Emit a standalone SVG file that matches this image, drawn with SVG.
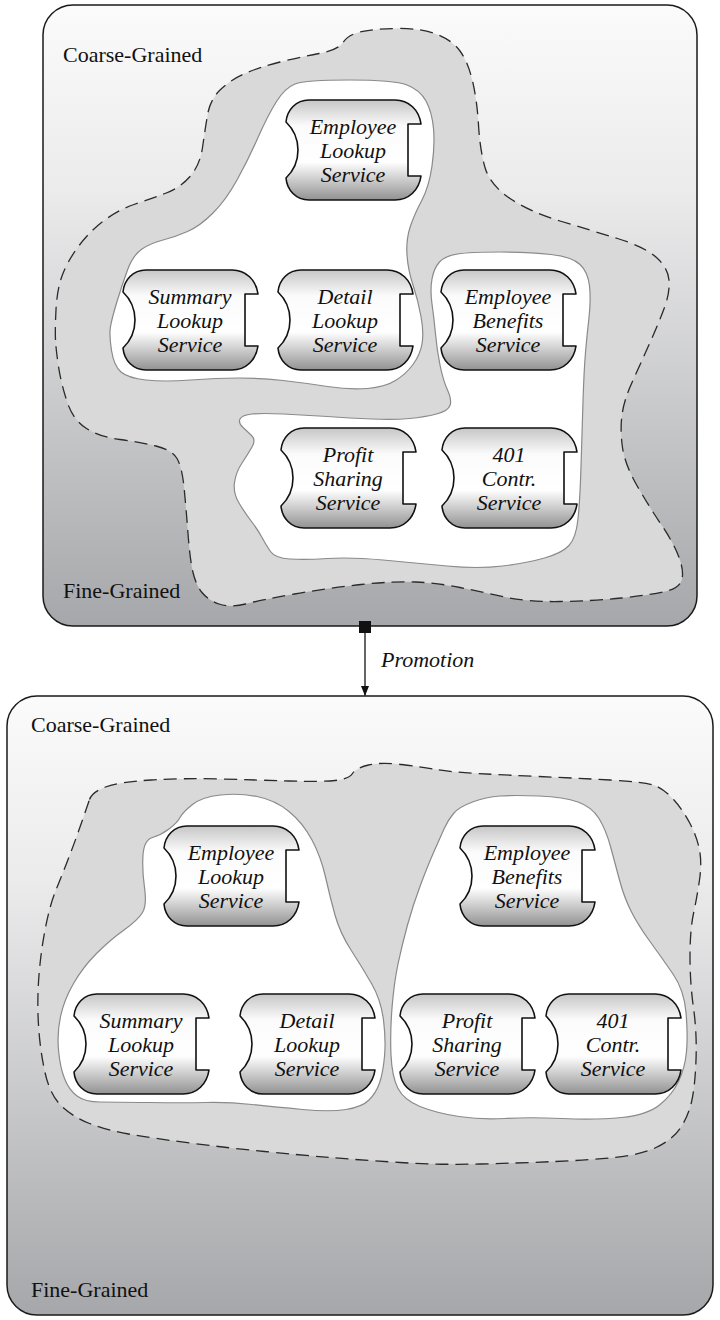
<svg xmlns="http://www.w3.org/2000/svg" xmlns:xlink="http://www.w3.org/1999/xlink" width="720" height="1320" viewBox="0 0 720 1320">
  <defs>
    <linearGradient id="panelFill" x1="0" y1="0" x2="0" y2="1">
      <stop offset="0" stop-color="#fbfbfb"/>
      <stop offset="0.3" stop-color="#ebebec"/>
      <stop offset="1" stop-color="#a6a7aa"/>
    </linearGradient>
    <linearGradient id="svcFill" x1="0" y1="0" x2="0" y2="1">
      <stop offset="0" stop-color="#c6c6c6"/>
      <stop offset="0.26" stop-color="#fbfbfb"/>
      <stop offset="0.62" stop-color="#ffffff"/>
      <stop offset="1" stop-color="#929292"/>
    </linearGradient>
    <!-- service capsule: concave socket on the left, square plug notch on the right -->
    <path id="svcShape" fill="url(#svcFill)" stroke="#111" stroke-width="1.6" stroke-linejoin="round"
          d="M24,0 L110,0 C124,0 134,10 136,24 L123,24 L123,76 L136,76 C134,90 124,100 110,100 L24,100 C11,100 2,90 1,78 A38.7,38.7 0 0 0 1,22 C2,10 11,0 24,0 Z"/>
    <marker id="arrowHead" viewBox="0 0 10 8" refX="10" refY="4" markerWidth="10" markerHeight="8" markerUnits="userSpaceOnUse" orient="auto">
      <path d="M0,0 L10,4 L0,8 Z" fill="#111"/>
    </marker>
  </defs>
  <style>
    .panel { fill: url(#panelFill); stroke: #1a1a1a; stroke-width: 1.5; }
    .zone { fill: #d9d9d9; stroke: #2a2a2a; stroke-width: 1.3; stroke-dasharray: 13 7; }
    .cluster { fill: #ffffff; stroke: #8a8a8a; stroke-width: 1.2; }
    .svc-label { font-family: "Liberation Serif", "Times New Roman", serif; font-style: italic; font-size: 22px; fill: #111; text-anchor: middle; }
    .level { font-family: "Liberation Serif", "Times New Roman", serif; font-size: 22px; fill: #111; }
    .conn { stroke: #333; stroke-width: 1.5; fill: none; }
    .conn-label { font-family: "Liberation Serif", "Times New Roman", serif; font-style: italic; font-size: 22px; fill: #111; }
  </style>

  <!-- ===== upper landscape ===== -->
  <g id="panel-before">
    <rect class="panel" x="43" y="5" width="654" height="621" rx="30" ry="30"/>
    <path class="zone" d="M 55.5,340 Q 55,330 56,310 Q 57,290 62,276 Q 67,262 78,247 Q 89,232 103.5,221 Q 118,210 134,204.5 Q 150,199 165,193.5 Q 180,188 190,176.5 Q 200,165 202.5,147.5 Q 205,130 207.5,115 Q 210,100 220,90 Q 230,80 245,73.5 Q 260,67 280,62 Q 300,57 319,53.5 Q 338,50 343,42.5 Q 348,35 360,32 Q 372,29 396,28.5 Q 420,28 436,34 Q 452,40 460,51 Q 468,62 472.5,81 Q 477,100 478.5,125 Q 480,150 485,167.5 Q 490,185 510,198.5 Q 530,212 560,221 Q 590,230 617.5,238.5 Q 645,247 656.5,257.5 Q 668,268 669,280 Q 670,292 665,306 Q 660,320 650,342.5 Q 640,365 632,382.5 Q 624,400 622,415 Q 620,430 622.5,447.5 Q 625,465 637.5,486.5 Q 650,508 661.5,525 Q 673,542 678.5,556 Q 684,570 682,579 Q 680,588 665,591.5 Q 650,595 621.5,598 Q 593,601 560,601.5 Q 527,602 504.5,597 Q 482,592 460,587.5 Q 438,583 416,582 Q 394,581 361,584.5 Q 328,588 294.5,594 Q 261,600 245.5,604 Q 230,608 219,604 Q 208,600 202,592.5 Q 196,585 193,572.5 Q 190,560 188,533.5 Q 186,507 184,487 Q 182,467 177,458.5 Q 172,450 156,446 Q 140,442 120,439.5 Q 100,437 86.5,428.5 Q 73,420 67,401.5 Q 61,383 58.5,366.5 Q 56,350 55.5,340 Z"/>
    <path class="cluster" d="M 295,84 Q 305,80 349.5,80 Q 394,80 407,85 Q 420,90 426,101 Q 432,112 433.5,128.5 Q 435,145 432,166 Q 429,187 421.5,201 Q 414,215 410,227.5 Q 406,240 407,255 Q 408,270 413,285 Q 418,300 421,316.5 Q 424,333 422,344 Q 420,355 413,364.5 Q 406,374 395.5,380.5 Q 385,387 367.5,388.5 Q 350,390 327.5,386.5 Q 305,383 283,380.5 Q 261,378 239,378 Q 217,378 190.5,380 Q 164,382 146,380 Q 128,378 121,372 Q 114,366 111.5,350.5 Q 109,335 110.5,326.5 Q 112,318 117,301.5 Q 122,285 127.5,270 Q 133,255 142,249 Q 151,243 163,240 Q 175,237 187.5,231.5 Q 200,226 213,213 Q 226,200 237,180 Q 248,160 258,137.5 Q 268,115 276.5,101.5 Q 285,88 295,84 Z"/>
    <path class="cluster" d="M 439.5,262 Q 445,256 457.5,254 Q 470,252 500,252 Q 530,252 551,254.5 Q 572,257 580,264.5 Q 588,272 589.5,286 Q 591,300 589,317.5 Q 587,335 585.5,352.5 Q 584,370 583,401.5 Q 582,433 581,466.5 Q 580,500 578,519 Q 576,538 569,545.5 Q 562,553 544.5,558 Q 527,563 502.5,566 Q 478,569 447,566 Q 416,563 383,560 Q 350,557 327.5,558.5 Q 305,560 290,559 Q 275,558 270.5,551.5 Q 266,545 262,537.5 Q 258,530 251.5,521.5 Q 245,513 239,503 Q 233,493 234.5,482.5 Q 236,472 242,463 Q 248,454 252,447 Q 256,440 252,436 Q 248,432 243,427.5 Q 238,423 240,419 Q 242,415 252,414 Q 262,413 283.5,414 Q 305,415 327.5,416.5 Q 350,418 372,419 Q 394,420 409.5,418.5 Q 425,417 436.5,414 Q 448,411 450,405.5 Q 452,400 447.5,390 Q 443,380 440,365 Q 437,350 435.5,334 Q 434,318 432,304 Q 430,290 432,279 Q 434,268 439.5,262 Z"/>
    <text class="level" x="63" y="62">Coarse-Grained</text>
    <text class="level" x="63" y="598">Fine-Grained</text>
  </g>

  <g id="svc-employee-lookup-1" transform="translate(285,100)">
    <use xlink:href="#svcShape" href="#svcShape"/>
    <text class="svc-label"><tspan x="68" y="34">Employee</tspan><tspan x="68" y="58">Lookup</tspan><tspan x="68" y="82">Service</tspan></text>
  </g>
  <g id="svc-summary-lookup-1" transform="translate(122,270)">
    <use xlink:href="#svcShape" href="#svcShape"/>
    <text class="svc-label"><tspan x="68" y="34">Summary</tspan><tspan x="68" y="58">Lookup</tspan><tspan x="68" y="82">Service</tspan></text>
  </g>
  <g id="svc-detail-lookup-1" transform="translate(277,270)">
    <use xlink:href="#svcShape" href="#svcShape"/>
    <text class="svc-label"><tspan x="68" y="34">Detail</tspan><tspan x="68" y="58">Lookup</tspan><tspan x="68" y="82">Service</tspan></text>
  </g>
  <g id="svc-employee-benefits-1" transform="translate(440,270)">
    <use xlink:href="#svcShape" href="#svcShape"/>
    <text class="svc-label"><tspan x="68" y="34">Employee</tspan><tspan x="68" y="58">Benefits</tspan><tspan x="68" y="82">Service</tspan></text>
  </g>
  <g id="svc-profit-sharing-1" transform="translate(280,428)">
    <use xlink:href="#svcShape" href="#svcShape"/>
    <text class="svc-label"><tspan x="68" y="34">Profit</tspan><tspan x="68" y="58">Sharing</tspan><tspan x="68" y="82">Service</tspan></text>
  </g>
  <g id="svc-401-contr-1" transform="translate(441,428)">
    <use xlink:href="#svcShape" href="#svcShape"/>
    <text class="svc-label"><tspan x="68" y="34">401</tspan><tspan x="68" y="58">Contr.</tspan><tspan x="68" y="82">Service</tspan></text>
  </g>

  <!-- ===== lower landscape ===== -->
  <g id="panel-after">
    <rect class="panel" x="7" y="696" width="706" height="619" rx="30" ry="30"/>
    <path class="zone" d="M 89.5,799.5 Q 92,792 105.5,787 Q 119,782 151,780 Q 183,778 220,779 Q 257,780 289,781 Q 321,782 335,780.5 Q 349,779 352.5,773.5 Q 356,768 368.5,765 Q 381,762 401.5,764.5 Q 422,767 436,769.5 Q 450,772 477.5,773.5 Q 505,775 539,776.5 Q 573,778 610,780 Q 647,782 656,786 Q 665,790 674,800 Q 683,810 690,823.5 Q 697,837 699.5,850 Q 702,863 699.5,880 Q 697,897 693.5,913.5 Q 690,930 690,956.5 Q 690,983 693.5,1008 Q 697,1033 696,1060 Q 695,1087 691.5,1102 Q 688,1117 680,1128.5 Q 672,1140 656,1147.5 Q 640,1155 615,1157.5 Q 590,1160 555,1161.5 Q 520,1163 480,1164 Q 440,1165 400,1162.5 Q 360,1160 330,1157.5 Q 300,1155 264.5,1151.5 Q 229,1148 190,1143 Q 151,1138 128.5,1134 Q 106,1130 89.5,1123.5 Q 73,1117 61.5,1106 Q 50,1095 45,1072.5 Q 40,1050 38.5,1025 Q 37,1000 39,975 Q 41,950 45.5,927.5 Q 50,905 55,892.5 Q 60,880 66.5,863.5 Q 73,847 80,827 Q 87,807 89.5,799.5 Z"/>
    <path class="cluster" d="M 180,817.5 Q 183,812 192.5,804.5 Q 202,797 220.5,795 Q 239,793 257,796.5 Q 275,800 289,811.5 Q 303,823 312,840 Q 321,857 325.5,877 Q 330,897 335,915 Q 340,933 351,950 Q 362,967 371.5,983.5 Q 381,1000 383.5,1020 Q 386,1040 384.5,1056.5 Q 383,1073 379.5,1083 Q 376,1093 369,1100 Q 362,1107 346,1109.5 Q 330,1112 302.5,1109.5 Q 275,1107 252,1104.5 Q 229,1102 206,1102.5 Q 183,1103 149,1102.5 Q 115,1102 100,1102 Q 85,1102 77,1096 Q 69,1090 64.5,1078.5 Q 60,1067 58.5,1050 Q 57,1033 60.5,1016.5 Q 64,1000 73.5,983.5 Q 83,967 96.5,953.5 Q 110,940 124,930 Q 138,920 142.5,912.5 Q 147,905 144.5,887.5 Q 142,870 143,855 Q 144,840 152.5,837.5 Q 161,835 169,829 Q 177,823 180,817.5 Z"/>
    <path class="cluster" d="M 453.5,813.5 Q 459,807 472.5,802 Q 486,797 500,796 Q 514,795 539,796 Q 564,797 578,802 Q 592,807 599,818.5 Q 606,830 610.5,846.5 Q 615,863 619.5,880 Q 624,897 631,911 Q 638,925 650,941.5 Q 662,958 673,974 Q 684,990 686,1012.5 Q 688,1035 686.5,1051.5 Q 685,1068 678.5,1081.5 Q 672,1095 659.5,1105 Q 647,1115 621.5,1117.5 Q 596,1120 562,1118.5 Q 528,1117 505,1118.5 Q 482,1120 459,1116.5 Q 436,1113 420,1106.5 Q 404,1100 398,1088.5 Q 392,1077 391,1055 Q 390,1033 392,1008 Q 394,983 398,964 Q 402,945 407.5,925 Q 413,905 420.5,885 Q 428,865 434,851.5 Q 440,838 444,829 Q 448,820 453.5,813.5 Z"/>
    <text class="level" x="31" y="732">Coarse-Grained</text>
    <text class="level" x="31" y="1297">Fine-Grained</text>
  </g>

  <g id="svc-employee-lookup-2" transform="translate(163,826)">
    <use xlink:href="#svcShape" href="#svcShape"/>
    <text class="svc-label"><tspan x="68" y="34">Employee</tspan><tspan x="68" y="58">Lookup</tspan><tspan x="68" y="82">Service</tspan></text>
  </g>
  <g id="svc-employee-benefits-2" transform="translate(459,826)">
    <use xlink:href="#svcShape" href="#svcShape"/>
    <text class="svc-label"><tspan x="68" y="34">Employee</tspan><tspan x="68" y="58">Benefits</tspan><tspan x="68" y="82">Service</tspan></text>
  </g>
  <g id="svc-summary-lookup-2" transform="translate(73,994)">
    <use xlink:href="#svcShape" href="#svcShape"/>
    <text class="svc-label"><tspan x="68" y="34">Summary</tspan><tspan x="68" y="58">Lookup</tspan><tspan x="68" y="82">Service</tspan></text>
  </g>
  <g id="svc-detail-lookup-2" transform="translate(239,994)">
    <use xlink:href="#svcShape" href="#svcShape"/>
    <text class="svc-label"><tspan x="68" y="34">Detail</tspan><tspan x="68" y="58">Lookup</tspan><tspan x="68" y="82">Service</tspan></text>
  </g>
  <g id="svc-profit-sharing-2" transform="translate(399,994)">
    <use xlink:href="#svcShape" href="#svcShape"/>
    <text class="svc-label"><tspan x="68" y="34">Profit</tspan><tspan x="68" y="58">Sharing</tspan><tspan x="68" y="82">Service</tspan></text>
  </g>
  <g id="svc-401-contr-2" transform="translate(545,994)">
    <use xlink:href="#svcShape" href="#svcShape"/>
    <text class="svc-label"><tspan x="68" y="34">401</tspan><tspan x="68" y="58">Contr.</tspan><tspan x="68" y="82">Service</tspan></text>
  </g>

  <!-- ===== promotion step between the two landscapes ===== -->
  <g id="connectors">
    <rect x="359" y="621" width="12" height="12" fill="#111"/>
    <line class="conn" x1="365" y1="633" x2="365" y2="696" marker-end="url(#arrowHead)"/>
    <text class="conn-label" x="381" y="667">Promotion</text>
  </g>
</svg>
